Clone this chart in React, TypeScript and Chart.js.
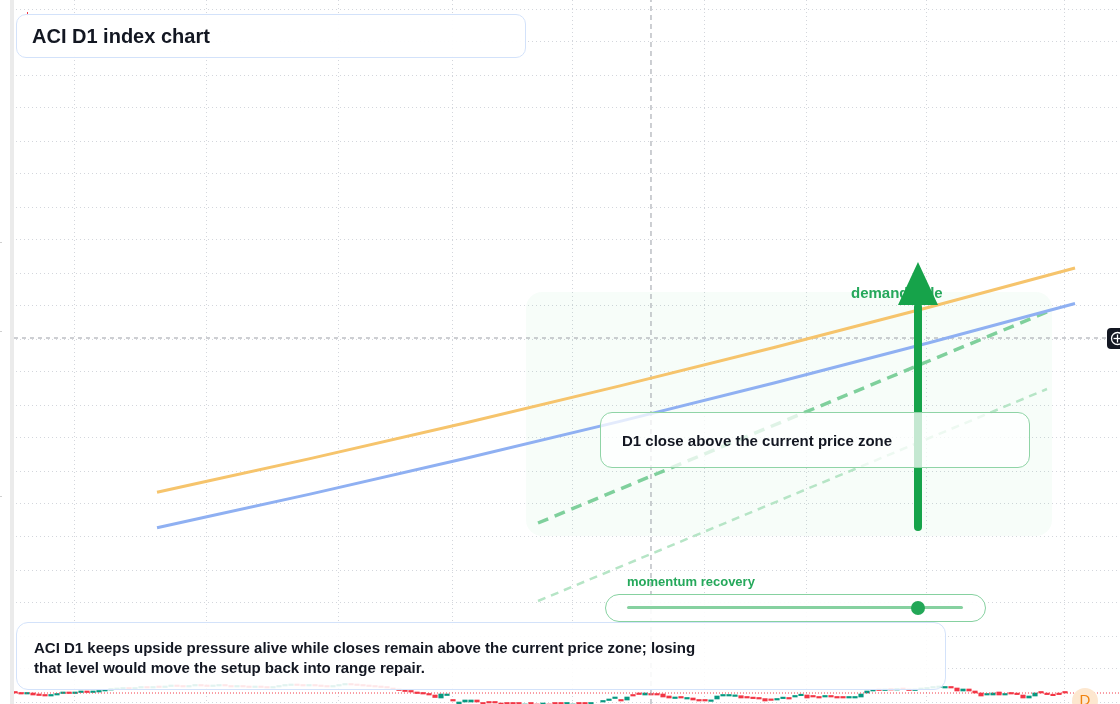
import React, { useEffect, useRef } from "react";
import { Chart, registerables } from "chart.js";

Chart.register(...registerables);

const FONT = '"Liberation Sans", Arial, Helvetica, sans-serif';

// ---- data (x = trading-day index, y = price) ----
const candleStart = -10;
const candleOpen = [
  20.115, 20.11, 20.10, 20.11, 20.09, 20.085, 20.08, 20.09, 20.105, 20.11,
  20.105, 20.115, 20.12, 20.115, 20.12, 20.13, 20.14, 20.145, 20.15, 20.155,
  20.15, 20.16, 20.165, 20.16, 20.17, 20.165, 20.175, 20.18, 20.175, 20.17,
  20.18, 20.185, 20.18, 20.175, 20.18, 20.185, 20.18, 20.17, 20.175, 20.17,
  20.165, 20.17, 20.165, 20.16, 20.17, 20.18, 20.185, 20.19, 20.185, 20.18,
  20.185, 20.18, 20.175, 20.17, 20.18, 20.19, 20.195, 20.19, 20.185, 20.18,
  20.175, 20.17, 20.165, 20.16, 20.145, 20.135, 20.125, 20.12, 20.105, 20.10,
  20.09, 20.06, 20.085, 20.04, 20.00, 20.02, 20.02, 20.04, 20.01, 20.015,
  20.015, 20.01, 19.99, 19.99, 19.98, 19.98, 19.995, 20.00, 19.99, 20.00,
  19.99, 19.97, 19.96, 19.98, 19.99, 19.98, 19.97, 19.98, 20.02, 20.035,
  20.055, 20.04, 20.04, 20.09, 20.10, 20.09, 20.105, 20.10, 20.10, 20.08,
  20.055, 20.07, 20.05, 20.06, 20.04, 20.04, 20.026, 20.05, 20.08, 20.08,
  20.076, 20.083, 20.065, 20.065, 20.06, 20.054, 20.044, 20.04, 20.054, 20.065,
  20.07, 20.083, 20.09, 20.076, 20.07, 20.07, 20.08, 20.07, 20.07, 20.06,
  20.06, 20.07, 20.11, 20.13, 20.14, 20.135, 20.145, 20.14, 20.15, 20.145,
  20.135, 20.145, 20.15, 20.16, 20.165, 20.16, 20.17, 20.16, 20.13, 20.15,
  20.13, 20.11, 20.09, 20.09, 20.12, 20.09, 20.11, 20.10, 20.09, 20.06,
  20.08, 20.12, 20.10, 20.094, 20.104, 20.115,
];
const candleClose = [
  20.11, 20.10, 20.11, 20.09, 20.085, 20.08, 20.09, 20.105, 20.11, 20.105,
  20.115, 20.12, 20.115, 20.12, 20.13, 20.14, 20.145, 20.15, 20.155, 20.15,
  20.16, 20.165, 20.16, 20.17, 20.165, 20.175, 20.18, 20.175, 20.17, 20.18,
  20.185, 20.18, 20.175, 20.18, 20.185, 20.18, 20.17, 20.175, 20.17, 20.165,
  20.17, 20.165, 20.16, 20.17, 20.18, 20.185, 20.19, 20.185, 20.18, 20.185,
  20.18, 20.175, 20.17, 20.18, 20.19, 20.195, 20.19, 20.185, 20.18, 20.175,
  20.17, 20.165, 20.16, 20.145, 20.135, 20.125, 20.12, 20.105, 20.10, 20.09,
  20.065, 20.10, 20.09, 20.03, 20.02, 20.04, 20.04, 20.02, 20.00, 20.01,
  20.01, 19.99, 19.98, 19.98, 19.97, 20.00, 19.985, 19.98, 20.01, 19.98,
  19.975, 19.96, 19.97, 20.00, 19.98, 19.97, 19.98, 19.995, 20.03, 20.045,
  20.07, 20.03, 20.07, 20.08, 20.095, 20.11, 20.09, 20.09, 20.07, 20.06,
  20.07, 20.06, 20.06, 20.04, 20.03, 20.03, 20.033, 20.08, 20.09, 20.09,
  20.083, 20.06, 20.06, 20.054, 20.05, 20.03, 20.036, 20.05, 20.06, 20.05,
  20.08, 20.094, 20.06, 20.07, 20.06, 20.08, 20.07, 20.06, 20.06, 20.07,
  20.07, 20.10, 20.13, 20.14, 20.135, 20.145, 20.14, 20.15, 20.145, 20.135,
  20.145, 20.15, 20.16, 20.165, 20.17, 20.17, 20.16, 20.13, 20.15, 20.13,
  20.11, 20.08, 20.10, 20.11, 20.09, 20.10, 20.10, 20.094, 20.06, 20.08,
  20.11, 20.11, 20.094, 20.083, 20.094, 20.11,
];
const lastPrice = 20.11;

const monthGrid = [0, 22, 44, 63, 83, 105, 122, 142, 165];
const priceGrid = [
  20.02, 20.35, 20.68, 21.01, 21.34, 21.67, 22.0, 22.33, 22.66, 22.99, 23.32,
  23.65, 23.98, 24.31, 24.64, 24.97, 25.3, 25.63, 25.96, 26.29, 26.62, 26.95,
];
const xRange = [-12.5, 174.1667];
const yRange = [20, 27.04];

const trendX = [13.67, 39.17, 65, 90.83, 116.67, 142.5, 166.67];
const upperBand = [22.118, 22.454, 22.81, 23.181, 23.568, 23.97, 24.36];
const lowerBand = [21.763, 22.099, 22.455, 22.826, 23.213, 23.615, 24.005];

const projectionX = [77.17, 162.0];
const projectionMain = [21.81, 23.92];
const projectionSoft = [21.03, 23.15];

const zoneX = [75.17, 162.83];
const zonePrice = [21.68, 24.12];

const arrowX = 140.5;
const arrowPrice = [21.77, 23.99, 24.42]; // tail, head base, tip
const demandLabel = { x: 129.33, y: 24.06, text: "demand side" };

const crossX = 96;
const crossPrice = 23.66;
const crossSpan = [-10.17, 172];

const overlayPlugin = {
  id: "overlay",
  beforeDatasetsDraw(chart: any) {
    const { ctx, scales } = chart;
    const xs = scales.x;
    const ys = scales.y;
    const x0 = xs.getPixelForValue(zoneX[0]);
    const x1 = xs.getPixelForValue(zoneX[1]);
    const y0 = ys.getPixelForValue(zonePrice[1]);
    const y1 = ys.getPixelForValue(zonePrice[0]);
    ctx.save();
    ctx.fillStyle = "rgba(34,197,94,0.035)";
    ctx.beginPath();
    ctx.roundRect(x0, y0, x1 - x0, y1 - y0, 16);
    ctx.fill();
    ctx.restore();
  },
  afterDatasetsDraw(chart: any) {
    const { ctx, scales } = chart;
    const xs = scales.x;
    const ys = scales.y;
    ctx.save();
    ctx.font = `bold 15px ${FONT}`;
    ctx.fillStyle = "#25a85b";
    ctx.textBaseline = "alphabetic";
    ctx.textAlign = "left";
    ctx.fillText(demandLabel.text, xs.getPixelForValue(demandLabel.x), ys.getPixelForValue(demandLabel.y));
    const ax = xs.getPixelForValue(arrowX);
    const yTail = ys.getPixelForValue(arrowPrice[0]);
    const yBase = ys.getPixelForValue(arrowPrice[1]);
    const yTip = ys.getPixelForValue(arrowPrice[2]);
    ctx.strokeStyle = "#16a34a";
    ctx.fillStyle = "#16a34a";
    ctx.lineWidth = 8;
    ctx.lineCap = "round";
    ctx.beginPath();
    ctx.moveTo(ax, yTail);
    ctx.lineTo(ax, yBase + 2);
    ctx.stroke();
    ctx.beginPath();
    ctx.moveTo(ax, yTip);
    ctx.lineTo(ax + 20, yBase);
    ctx.lineTo(ax - 20, yBase);
    ctx.closePath();
    ctx.fill();
    ctx.restore();
  },
};

const pts = (xs: number[], ys: number[]) => xs.map((x, i) => ({ x, y: ys[i] }));

export default function App() {
  const ref = useRef<HTMLCanvasElement>(null);
  useEffect(() => {
    if (!ref.current) return;
    const candleData = candleOpen.map((o, i) => ({ x: candleStart + i, y: [o, candleClose[i]] }));
    const candleColors = candleOpen.map((o, i) => (candleClose[i] > o ? "#089981" : "#f23645"));
    const chart = new Chart(ref.current, {
      type: "line",
      data: {
        datasets: [
          {
            type: "line",
            data: pts(trendX, upperBand),
            borderColor: "#f6c46c",
            borderWidth: 3,
            pointRadius: 0,
            cubicInterpolationMode: "monotone",
            order: 1,
          } as any,
          {
            type: "line",
            data: pts(trendX, lowerBand),
            borderColor: "#8fb0f2",
            borderWidth: 3,
            pointRadius: 0,
            cubicInterpolationMode: "monotone",
            order: 2,
          },
          {
            type: "line",
            data: pts(projectionX, projectionMain),
            borderColor: "#7fd09c",
            borderWidth: 3.5,
            borderDash: [11, 7],
            pointRadius: 0,
            order: 3,
          },
          {
            type: "line",
            data: pts(projectionX, projectionSoft),
            borderColor: "#b6e5c6",
            borderWidth: 2.5,
            borderDash: [8, 6],
            pointRadius: 0,
            order: 4,
          },
          {
            type: "line",
            data: [
              { x: crossSpan[0], y: crossPrice },
              { x: crossSpan[1], y: crossPrice },
            ],
            borderColor: "#9b9ea6",
            borderWidth: 1,
            borderDash: [4, 4],
            pointRadius: 0,
            order: 5,
          },
          {
            type: "line",
            data: [
              { x: crossX, y: yRange[0] },
              { x: crossX, y: yRange[1] },
            ],
            borderColor: "#9b9ea6",
            borderWidth: 1,
            borderDash: [5, 4],
            pointRadius: 0,
            order: 6,
          },
          {
            type: "line",
            data: [
              { x: crossSpan[0], y: lastPrice },
              { x: xRange[1], y: lastPrice },
            ],
            borderColor: "#f23645",
            borderWidth: 1,
            borderDash: [1, 2],
            pointRadius: 0,
            order: 7,
          },
          {
            type: "bar",
            data: candleData as any,
            backgroundColor: candleColors,
            borderWidth: 0,
            barThickness: 4.5,
            minBarLength: 1.5,
            grouped: false,
            order: 9,
          } as any,
        ],
      },
      options: {
        responsive: false,
        animation: false,
        devicePixelRatio: 1,
        events: [],
        layout: { padding: 0 },
        plugins: { legend: { display: false }, tooltip: { enabled: false } },
        scales: {
          x: {
            type: "linear",
            min: xRange[0],
            max: xRange[1],
            offset: false,
            afterBuildTicks: (a: any) => {
              a.ticks = monthGrid.map((v) => ({ value: v }));
            },
            afterFit: (a: any) => {
              a.height = 0;
            },
            ticks: { display: false },
            grid: { color: "#d3d6dc", lineWidth: 1, drawTicks: false, offset: false },
            border: { display: false, dash: [1, 3] },
          },
          y: {
            type: "linear",
            min: yRange[0],
            max: yRange[1],
            offset: false,
            afterBuildTicks: (a: any) => {
              a.ticks = priceGrid.map((v) => ({ value: v }));
            },
            afterFit: (a: any) => {
              a.width = 0;
            },
            ticks: { display: false },
            grid: { color: "#d3d6dc", lineWidth: 1, drawTicks: false, offset: false },
            border: { display: false, dash: [1, 3] },
          },
        },
      } as any,
      plugins: [overlayPlugin],
    });
    return () => chart.destroy();
  }, []);

  const box: React.CSSProperties = {
    position: "absolute",
    boxSizing: "border-box",
    display: "flex",
    alignItems: "center",
    color: "#131722",
    fontWeight: 700,
    fontFamily: FONT,
  };

  return (
    <div
      style={{
        position: "fixed",
        left: 0,
        top: 0,
        width: 1120,
        height: 704,
        overflow: "hidden",
        background: "#ffffff",
        fontFamily: FONT,
      }}
    >
      <canvas ref={ref} width={1120} height={704} style={{ position: "absolute", left: 0, top: 0, width: 1120, height: 704 }} />
      <div style={{ position: "absolute", left: 0, top: 0, width: 10, height: 704, background: "#ffffff" }} />
      <div style={{ position: "absolute", left: 10, top: 0, width: 4, height: 704, background: "#ebebeb" }} />
      <div style={{ position: "absolute", left: 0, top: 242, width: 2, height: 1, background: "#d0d0d0" }} />
      <div style={{ position: "absolute", left: 0, top: 331, width: 2, height: 1, background: "#d0d0d0" }} />
      <div style={{ position: "absolute", left: 0, top: 496, width: 2, height: 1, background: "#d0d0d0" }} />
      <div style={{ position: "absolute", left: 27, top: 12, width: 1, height: 4, background: "#f23645" }} />

      <div
        style={{
          ...box,
          left: 16,
          top: 14,
          width: 510,
          height: 44,
          border: "1px solid #d3e2fa",
          borderRadius: 10,
          background: "rgba(255,255,255,0.95)",
          paddingLeft: 15,
          fontSize: 20,
        }}
      >
        ACI D1 index chart
      </div>

      <div
        style={{
          ...box,
          left: 600,
          top: 412,
          width: 430,
          height: 56,
          border: "1px solid #8fd4a6",
          borderRadius: 12,
          background: "rgba(255,255,255,0.75)",
          paddingLeft: 21,
          fontSize: 15,
        }}
      >
        D1 close above the current price zone
      </div>

      <div
        style={{
          position: "absolute",
          left: 627,
          top: 574,
          fontSize: 13,
          fontWeight: 700,
          color: "#25a85b",
          lineHeight: "16px",
          whiteSpace: "nowrap",
        }}
      >
        momentum recovery
      </div>
      <div
        style={{
          position: "absolute",
          boxSizing: "border-box",
          left: 605,
          top: 594,
          width: 381,
          height: 28,
          border: "1px solid #86d1a0",
          borderRadius: 14,
          background: "rgba(255,255,255,0.9)",
        }}
      />
      <div style={{ position: "absolute", left: 627, top: 606, width: 336, height: 3, borderRadius: 2, background: "#86d1a0" }} />
      <div style={{ position: "absolute", left: 911, top: 601, width: 14, height: 14, borderRadius: 7, background: "#23a757" }} />

      <div
        style={{
          ...box,
          alignItems: "flex-start",
          left: 16,
          top: 622,
          width: 930,
          height: 68,
          border: "1px solid #d3e2fa",
          borderRadius: 12,
          background: "rgba(255,255,255,0.88)",
          padding: "15px 0 0 17px",
          fontSize: 15,
          lineHeight: "20px",
        }}
      >
        <div>
          ACI D1 keeps upside pressure alive while closes remain above the current price zone; losing
          <br />
          that level would move the setup back into range repair.
        </div>
      </div>

      <div style={{ position: "absolute", left: 1107, top: 328, width: 22, height: 21, borderRadius: 4, background: "#131722" }}>
        <svg width="22" height="21" style={{ position: "absolute", left: 0, top: 0 }}>
          <circle cx="10.5" cy="10.5" r="6" fill="none" stroke="#ffffff" strokeWidth="1.3" />
          <line x1="6.5" y1="10.5" x2="14.5" y2="10.5" stroke="#ffffff" strokeWidth="1.3" />
          <line x1="10.5" y1="6.5" x2="10.5" y2="14.5" stroke="#ffffff" strokeWidth="1.3" />
        </svg>
      </div>

      <div
        style={{
          position: "absolute",
          left: 1072,
          top: 688,
          width: 26,
          height: 26,
          borderRadius: 13,
          background: "#fde7cf",
          color: "#f0820f",
          fontSize: 15,
          lineHeight: "24px",
          textAlign: "center",
        }}
      >
        D
      </div>
    </div>
  );
}
